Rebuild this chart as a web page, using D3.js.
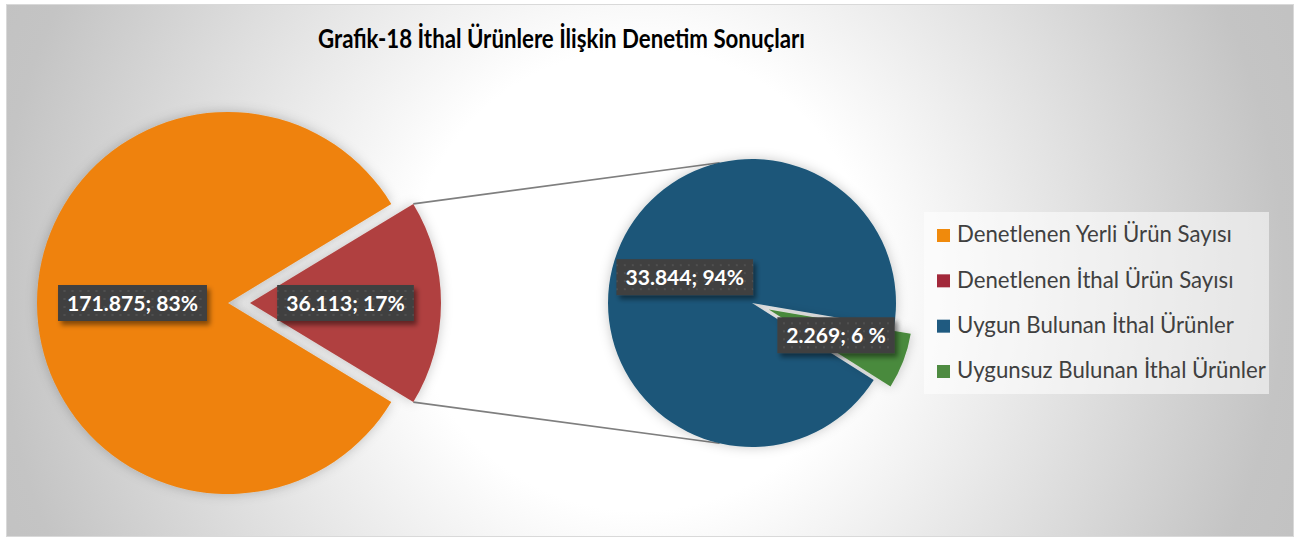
<!DOCTYPE html>
<html><head><meta charset="utf-8">
<script src="https://cdn.jsdelivr.net/npm/d3@7"></script>
<style>html,body{margin:0;padding:0;background:#fff;} svg{display:block;}</style>
</head><body>
<svg id="chart" width="1304" height="540"></svg>
<script>
// ---- data ----
const titleText = "Grafik-18 İthal Ürünlere İlişkin Denetim Sonuçları";
const mainCategories = ["Denetlenen Yerli Ürün Sayısı", "Denetlenen İthal Ürün Sayısı"];
const mainValues = [171875, 36113];
const mainLabels = ["171.875; 83%", "36.113; 17%"];
const subCategories = ["Uygun Bulunan İthal Ürünler", "Uygunsuz Bulunan İthal Ürünler"];
const subValues = [33844, 2269];
const subLabels = ["33.844; 94%", "2.269; 6 %"];
const legendLabels = mainCategories.concat(subCategories);

// ---- styling / layout ----
const sliceColor = d3.scaleOrdinal().domain(legendLabels).range(["#EF820B", "#B0413F", "#1C5779", "#4A8A3C"]);
const legendColor = d3.scaleOrdinal().domain(legendLabels).range(["#F08A0C", "#A2283A", "#1F5A80", "#4E8B41"]);
const W = 1304, H = 540;
const svg = d3.select("#chart");
const defs = svg.append("defs");

const bg = defs.append("radialGradient").attr("id", "bg").attr("gradientUnits", "userSpaceOnUse")
  .attr("cx", 640).attr("cy", 280).attr("r", 700);
bg.append("stop").attr("offset", 0).attr("stop-color", "#ffffff");
bg.append("stop").attr("offset", 0.33).attr("stop-color", "#ffffff");
bg.append("stop").attr("offset", 0.92).attr("stop-color", "#c4c4c4");
bg.append("stop").attr("offset", 1).attr("stop-color", "#c2c2c2");

const pat = defs.append("pattern").attr("id", "dots").attr("patternUnits", "userSpaceOnUse")
  .attr("width", 8).attr("height", 8);
pat.append("rect").attr("width", 8).attr("height", 8).attr("fill", "#404040");
pat.append("circle").attr("cx", 4).attr("cy", 4).attr("r", 0.9).attr("fill", "#575757");

const lshadow = defs.append("filter").attr("id", "lshadow").attr("x", "-20%").attr("y", "-30%").attr("width", "140%").attr("height", "170%");
lshadow.append("feDropShadow").attr("dx", 3).attr("dy", 4).attr("stdDeviation", 2.5)
  .attr("flood-color", "#000").attr("flood-opacity", 0.45);

const pshadow = defs.append("filter").attr("id", "pshadow").attr("x", "-20%").attr("y", "-20%").attr("width", "140%").attr("height", "140%");
pshadow.append("feDropShadow").attr("dx", 0).attr("dy", 0).attr("stdDeviation", 6)
  .attr("flood-color", "#000").attr("flood-opacity", 0.22);

// frame
svg.append("rect").attr("x", 6.5).attr("y", 4.5).attr("width", 1287).attr("height", 532)
  .attr("fill", "url(#bg)").attr("stroke", "#d9d9d9").attr("stroke-width", 1);

function fitWidth(sel, target) {
  const w = sel.node().getComputedTextLength();
  if (Math.abs(w - target) > 1) sel.attr("textLength", target).attr("lengthAdjust", "spacingAndGlyphs");
}

// title
const title = svg.append("text").attr("x", 561.5).attr("y", 48).attr("text-anchor", "middle")
  .attr("font-family", "Lato, 'Open Sans', sans-serif").attr("font-weight", "bold")
  .attr("font-size", 26).attr("fill", "#000000").text(titleText);
fitWidth(title, 487);

const rad = Math.PI / 180;
// ---- main pie ----
const main = { cx: 228, cy: 303, r: 191 };
const mainTotal = d3.sum(mainValues);
const redSpan = mainValues[1] / mainTotal * 2 * Math.PI;
const mainStart = Math.PI / 2 + redSpan / 2;          // red slice centred pointing right
const mainPie = d3.pie().sort(null).startAngle(mainStart).endAngle(mainStart + 2 * Math.PI);
const mainArcs = mainPie(mainValues).map((d, i) => Object.assign(d, { cat: mainCategories[i], label: mainLabels[i], explode: i === 1 ? 22 : 0 }));
const mainArc = d3.arc().innerRadius(0).outerRadius(main.r);

// ---- secondary pie ----
const sub = { cx: 752, cy: 303, r: 144 };
const subTotal = d3.sum(subValues);
const greenSpan = subValues[1] / subTotal * 2 * Math.PI;
const greenMid = 111 * rad;
const subStart = greenMid + greenSpan / 2;
const subPie = d3.pie().sort(null).startAngle(subStart).endAngle(subStart + 2 * Math.PI);
const subArcs = subPie(subValues).map((d, i) => Object.assign(d, { cat: subCategories[i], label: subLabels[i], explode: i === 1 ? 18 : 0 }));
const subArc = d3.arc().innerRadius(0).outerRadius(sub.r);

function offset(d) {
  const m = (d.startAngle + d.endAngle) / 2;
  return [d.explode * Math.sin(m), -d.explode * Math.cos(m)];
}

// connector lines
const red = mainArcs[1];
const ro = offset(red);
const pt = (c, r, a, o) => [c.cx + o[0] + r * Math.sin(a), c.cy + o[1] - r * Math.cos(a)];
const connectAngle = 13 * rad;
const lines = [
  [pt(main, main.r, red.startAngle, ro), pt(sub, sub.r, -connectAngle, [0, 0])],
  [pt(main, main.r, red.endAngle, ro), pt(sub, sub.r, Math.PI + connectAngle, [0, 0])]
];
svg.append("g").selectAll("line").data(lines).join("line")
  .attr("x1", d => d[0][0]).attr("y1", d => d[0][1]).attr("x2", d => d[1][0]).attr("y2", d => d[1][1])
  .attr("stroke", "#7f7f7f").attr("stroke-width", 1.6);

const gMain = svg.append("g").attr("transform", `translate(${main.cx},${main.cy})`);
gMain.selectAll("path").data(mainArcs).join("path")
  .attr("transform", d => `translate(${offset(d)})`)
  .attr("d", mainArc).attr("fill", d => sliceColor(d.cat)).attr("filter", "url(#pshadow)");

const gSub = svg.append("g").attr("transform", `translate(${sub.cx},${sub.cy})`);
gSub.selectAll("path").data(subArcs).join("path")
  .attr("transform", d => `translate(${offset(d)})`)
  .attr("d", subArc).attr("fill", d => sliceColor(d.cat)).attr("filter", "url(#pshadow)");

// ---- data labels ----
const labelFont = "Lato, 'Open Sans', sans-serif";
const probe = svg.append("text").attr("font-family", labelFont).attr("font-weight", "bold").attr("font-size", 20).text(mainLabels[0]);
const labelSize = 20 * 131 / probe.node().getComputedTextLength();
probe.remove();

function drawLabels(g, arcs, arcGen) {
  arcs.forEach(d => {
    const c = arcGen.centroid(d), o = offset(d);
    const x = c[0] + o[0], y = c[1] + o[1];
    const lg = g.append("g").attr("transform", `translate(${x},${y})`);
    const t = lg.append("text").attr("text-anchor", "middle").attr("y", labelSize * 0.36)
      .attr("font-family", labelFont).attr("font-weight", "bold").attr("font-size", labelSize)
      .attr("fill", "#ffffff").text(d.label);
    const tw = t.node().getComputedTextLength();
    lg.insert("rect", "text").attr("x", -tw / 2 - 9).attr("y", -18).attr("width", tw + 18).attr("height", 36)
      .attr("fill", "url(#dots)").attr("filter", "url(#lshadow)");
  });
}
drawLabels(gMain, mainArcs, mainArc);
drawLabels(gSub, subArcs, subArc);

// ---- legend ----
const leg = svg.append("g");
leg.append("rect").attr("x", 924).attr("y", 212).attr("width", 345).attr("height", 182)
  .attr("fill", "#ffffff").attr("fill-opacity", 0.55);
const rowY = d3.scalePoint().domain(legendLabels).range([235.5, 371.5]);
const items = leg.selectAll("g.item").data(legendLabels).join("g").attr("class", "item")
  .attr("transform", d => `translate(937,${rowY(d)})`);
items.append("rect").attr("x", 0).attr("y", -6.5).attr("width", 13).attr("height", 13).attr("fill", d => legendColor(d));
const lt = items.append("text").attr("x", 20).attr("y", 6.8)
  .attr("font-family", "Lato, 'Open Sans', sans-serif").attr("font-size", 19).attr("fill", "#404040").text(d => d);
const legProbe = lt.filter((d, i) => i === 0).node().getComputedTextLength();
const legScale = 275 / legProbe;
lt.attr("font-size", 19 * legScale);
</script>
</body></html>
